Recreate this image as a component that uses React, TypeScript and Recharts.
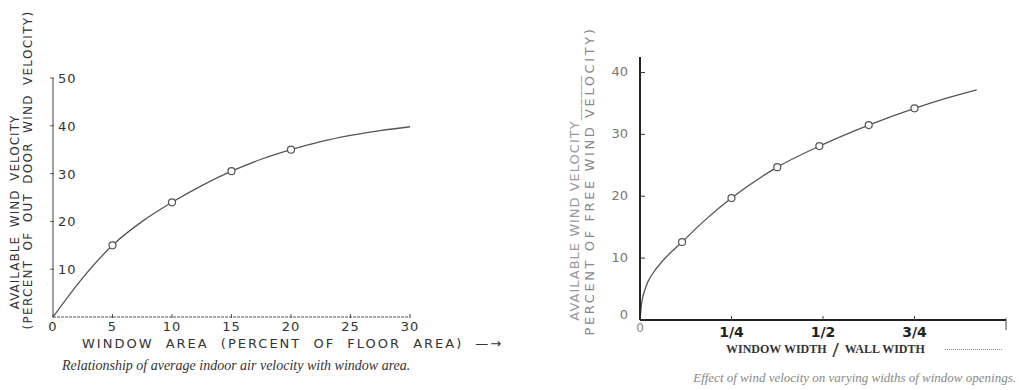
import { LineChart, Line, XAxis, YAxis } from 'recharts';

// left figure: window area (percent of floor area) vs available wind velocity
const areaCurveX = [0, 2.5, 5, 7.5, 10, 12.5, 15, 17.5, 20, 22.5, 25, 27.5, 30];
const areaCurveY = [0, 8.2, 15, 20, 24, 27.5, 30.5, 33, 35, 36.7, 38, 39, 39.8];
const areaPointX = [5, 10, 15, 20];
const areaPointY = [15, 24, 30.5, 35];
const areaTicksX = [0, 5, 10, 15, 20, 25, 30];
const areaTicksY = [10, 20, 30, 40, 50];

// right figure: window width / wall width vs available wind velocity
const widthCurveX = [0, 0.004, 0.014, 0.036, 0.064, 0.115, 0.173, 0.25, 0.375, 0.49, 0.625, 0.75, 0.84, 0.92];
const widthCurveY = [0, 2.5, 5, 7.6, 9.7, 12.6, 15.9, 19.7, 24.7, 28.1, 31.5, 34.2, 35.9, 37.2];
const widthPointX = [0.115, 0.25, 0.375, 0.49, 0.625, 0.75];
const widthPointY = [12.6, 19.7, 24.7, 28.1, 31.5, 34.2];
const widthTicksX = [0, 0.25, 0.5, 0.75, 1];
const widthTickLabels = ['0', '1/4', '1/2', '3/4', ''];
const widthTicksY = [0, 10, 20, 30, 40];

const SANS = '"DejaVu Sans", sans-serif';
const SERIF = '"Liberation Serif", serif';

const zip = (xs: number[], ys: number[]) => xs.map((x, i) => ({ x, y: ys[i] }));

const areaCurve = zip(areaCurveX, areaCurveY);
const areaPoints = zip(areaPointX, areaPointY);
const widthCurve = zip(widthCurveX, widthCurveY);
const widthPoints = zip(widthPointX, widthPointY);

function AreaYTick({ x, y, payload }: any) {
  return (
    <g>
      <line x1={x - 3} x2={x + 1} y1={y} y2={y} stroke="#555" />
      <text x={x + 5} y={y + 5} fontSize={13} fill="#333" letterSpacing={1} fontFamily={SANS}>
        {payload.value}
      </text>
    </g>
  );
}

function AreaXTick({ x, y, payload }: any) {
  return (
    <g>
      <line x1={x} x2={x} y1={y - 3} y2={y + 1} stroke="#555" />
      <text x={x} y={y + 14} fontSize={13} fill="#333" textAnchor="middle" letterSpacing={1} fontFamily={SANS}>
        {payload.value}
      </text>
    </g>
  );
}

function WidthYTick({ x, y, payload }: any) {
  return (
    <g>
      <line x1={x} x2={x + 5} y1={y} y2={y} stroke="#333" />
      <text x={x - 12} y={payload.value === 0 ? y - 1 : y + 4} fontSize={13} fill="#777" textAnchor="end" fontFamily={SANS}>
        {payload.value}
      </text>
    </g>
  );
}

function WidthXTick({ x, y, payload, index }: any) {
  const label = widthTickLabels[widthTicksX.indexOf(payload.value)] ?? '';
  if (index === 0) {
    return (
      <text x={x} y={y + 12} fontSize={12} fill="#888" textAnchor="middle" fontFamily={SANS}>
        {label}
      </text>
    );
  }
  const last = payload.value === 1;
  return (
    <g>
      <line x1={x} x2={x} y1={last ? y - 2 : y - 4} y2={last ? y + 10 : y} stroke="#444" />
      <text x={x} y={y + 17} fontSize={14} fontWeight="bold" fill="#222" textAnchor="middle" fontFamily={SANS}>
        {label}
      </text>
    </g>
  );
}

const abs = (left: number, top: number, extra: React.CSSProperties = {}): React.CSSProperties => ({
  position: 'absolute',
  left,
  top,
  whiteSpace: 'pre',
  ...extra,
});

const rotated = (cx: number, cy: number, extra: React.CSSProperties = {}): React.CSSProperties => ({
  position: 'absolute',
  left: cx,
  top: cy,
  whiteSpace: 'pre',
  transform: 'translate(-50%, -50%) rotate(-90deg)',
  lineHeight: 1,
  ...extra,
});

export default function App() {
  return (
    <div style={{ position: 'absolute', left: 0, top: 0, width: 1019, height: 390, background: '#fff', overflow: 'hidden' }}>
      {/* left figure */}
      <div style={{ position: 'absolute', left: 0, top: 0 }}>
        <LineChart width={440} height={390} margin={{ top: 78, right: 30, bottom: 43, left: 43 }}>
          <XAxis
            dataKey="x"
            type="number"
            domain={[0, 30]}
            ticks={areaTicksX}
            height={30}
            tickSize={0}
            tickMargin={0}
            tick={<AreaXTick />}
            axisLine={{ stroke: '#555', strokeDasharray: '3 1' }}
            allowDataOverflow
          />
          <YAxis
            dataKey="y"
            type="number"
            domain={[0, 50]}
            ticks={areaTicksY}
            width={10}
            tickSize={0}
            tickMargin={0}
            tick={<AreaYTick />}
            axisLine={{ stroke: '#444' }}
            allowDataOverflow
          />
          <Line data={areaCurve} dataKey="y" type="monotone" stroke="#555" strokeWidth={1.3} dot={false} isAnimationActive={false} />
          <Line
            data={areaPoints}
            dataKey="y"
            stroke="none"
            dot={{ r: 3.5, fill: '#fff', stroke: '#555', strokeWidth: 1.2 }}
            isAnimationActive={false}
          />
        </LineChart>
      </div>
      <div style={rotated(15, 212, { fontFamily: SANS, fontSize: 12, letterSpacing: 1, wordSpacing: 4, color: '#333' })}>
        AVAILABLE WIND VELOCITY
      </div>
      <div style={rotated(28, 170, { fontFamily: SANS, fontSize: 12, letterSpacing: 1.3, wordSpacing: 4, color: '#333' })}>
        (PERCENT OF OUT DOOR WIND VELOCITY)
      </div>
      <div style={abs(82, 336, { fontFamily: SANS, fontSize: 13, letterSpacing: 2, wordSpacing: 6, color: '#333' })}>
        {'WINDOW AREA (PERCENT OF FLOOR AREA) \u2014\u2192'}
      </div>
      <div style={abs(62, 358, { fontFamily: SERIF, fontStyle: 'italic', fontSize: 14, color: '#333' })}>
        Relationship of average indoor air velocity with window area.
      </div>

      {/* right figure */}
      <div style={{ position: 'absolute', left: 580, top: 0 }}>
        <LineChart width={439} height={390} margin={{ top: 57, right: 13, bottom: 40, left: 20 }}>
          <XAxis
            dataKey="x"
            type="number"
            domain={[0, 1]}
            ticks={widthTicksX}
            height={30}
            tickSize={0}
            tickMargin={0}
            tick={<WidthXTick />}
            axisLine={{ stroke: '#222', strokeWidth: 2 }}
            allowDataOverflow
          />
          <YAxis
            dataKey="y"
            type="number"
            domain={[0, 42.5]}
            ticks={widthTicksY}
            width={40}
            tickSize={0}
            tickMargin={0}
            tick={<WidthYTick />}
            axisLine={{ stroke: '#222', strokeWidth: 2 }}
            allowDataOverflow
          />
          <Line data={widthCurve} dataKey="y" type="monotone" stroke="#555" strokeWidth={1.3} dot={false} isAnimationActive={false} />
          <Line
            data={widthPoints}
            dataKey="y"
            stroke="none"
            dot={{ r: 3.5, fill: '#fff', stroke: '#555', strokeWidth: 1.2 }}
            isAnimationActive={false}
          />
        </LineChart>
      </div>
      <div style={rotated(574, 198, { fontFamily: SANS, fontSize: 13, letterSpacing: 1, color: '#999' })}>
        AVAILABLE WIND VELOCITY______
      </div>
      <div style={rotated(589, 181, { fontFamily: SANS, fontSize: 13, letterSpacing: 2.6, color: '#888' })}>
        PERCENT OF FREE WIND VELOCITY)
      </div>
      <div style={abs(726, 342, { fontFamily: SERIF, fontWeight: 'bold', fontSize: 12, color: '#333', display: 'flex', alignItems: 'center', gap: 6 })}>
        <span>WINDOW WIDTH</span>
        <span style={{ fontSize: 22, lineHeight: '12px' }}>/</span>
        <span>WALL WIDTH</span>
      </div>
      <div style={abs(945, 349, { width: 57, height: 0, borderTop: '1.5px dotted #888' })} />
      <div style={abs(1016, 370, { fontFamily: SERIF, fontStyle: 'italic', fontSize: 13, color: '#888', transform: 'translateX(-100%)' })}>
        Effect of wind velocity on varying widths of window openings.
      </div>
    </div>
  );
}
